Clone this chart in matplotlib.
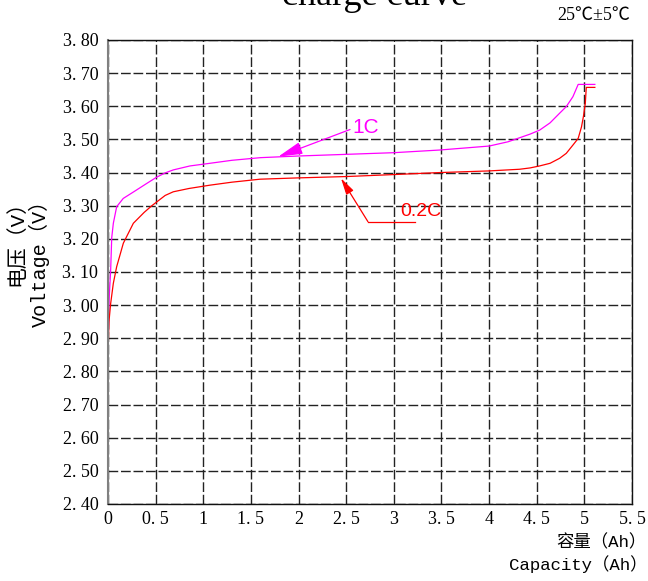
import numpy as np
import matplotlib.pyplot as plt

# 1C charge curve (capacity Ah, voltage V)
cap_1c = [0, 0.004, 0.012, 0.028, 0.039, 0.056, 0.091, 0.16, 0.27, 0.4, 0.51, 0.6, 0.685, 0.86, 1.07,
          1.3, 1.6, 2.0, 2.5, 3.0, 3.48, 4.0, 4.2, 4.32, 4.43, 4.53, 4.64, 4.74, 4.81, 4.88, 4.935, 5.11]
volt_1c = [2.80, 2.92, 3.02, 3.106, 3.203, 3.247, 3.297, 3.322, 3.342, 3.366, 3.386, 3.399, 3.408, 3.420, 3.428,
           3.437, 3.445, 3.450, 3.455, 3.460, 3.468, 3.48, 3.493, 3.505, 3.516, 3.528, 3.550, 3.579, 3.599, 3.629, 3.666, 3.666]

# 0.2C charge curve
cap_02c = [0, 0.003, 0.01, 0.028, 0.056, 0.091, 0.161, 0.266, 0.38, 0.46, 0.6, 0.685, 0.85, 1.07, 1.3,
           1.595, 2.0, 2.5, 3.0, 3.48, 4.0, 4.32, 4.43, 4.53, 4.64, 4.74, 4.81, 4.88, 4.935, 4.97, 4.99,
           5.01, 5.02, 5.11]
volt_02c = [2.80, 2.88, 2.95, 3.005, 3.066, 3.116, 3.187, 3.247, 3.28, 3.30, 3.331, 3.342, 3.352, 3.362, 3.371,
            3.380, 3.384, 3.388, 3.394, 3.40, 3.405, 3.41, 3.414, 3.42, 3.428, 3.443, 3.458, 3.483, 3.503, 3.538, 3.569,
            3.609, 3.657, 3.657]

xticks = [0, 0.5, 1, 1.5, 2, 2.5, 3, 3.5, 4, 4.5, 5, 5.5]
xlabels = ['0', '0. 5', '1', '1. 5', '2', '2. 5', '3', '3. 5', '4', '4. 5', '5', '5. 5']
yticks = [2.4, 2.5, 2.6, 2.7, 2.8, 2.9, 3.0, 3.1, 3.2, 3.3, 3.4, 3.5, 3.6, 3.7, 3.8]
ylabels = ['2. 40', '2. 50', '2. 60', '2. 70', '2. 80', '2. 90', '3. 00', '3. 10', '3. 20',
           '3. 30', '3. 40', '3. 50', '3. 60', '3. 70', '3. 80']

serif = ['Liberation Serif', 'Noto Sans CJK SC']
mono = ['Liberation Mono', 'Noto Sans CJK SC']

fig = plt.figure(figsize=(6.48, 5.81), dpi=100)
ax = fig.add_axes([108/648, 1-504/581, (632-108)/648, (504-40)/581])

ax.plot(cap_1c, volt_1c, color='#ff00ff', lw=0.9)
ax.plot(cap_02c, volt_02c, color='#ff0000', lw=0.9)

ax.set_xlim(0, 5.5)
ax.set_ylim(2.4, 3.8)
ax.set_xticks(xticks)
ax.set_xticklabels(xlabels, family=serif, fontsize=13)
ax.set_yticks(yticks)
ax.set_yticklabels(ylabels, family=serif, fontsize=13)
ax.tick_params(axis='both', length=0)
ax.tick_params(axis='y', pad=7)
ax.tick_params(axis='x', pad=5)
ax.grid(True, color='#222222', lw=1.0, linestyle=(0, (7, 2)))

for s in ['top', 'bottom', 'right']:
    ax.spines[s].set_color('#111111')
    ax.spines[s].set_linewidth(1.0)
ax.spines['left'].set_color('#808080')
ax.spines['left'].set_linewidth(1.5)

# 1C label with arrow
ax.annotate('1C', xy=(1.787, 3.448), xytext=(2.57, 3.536), color='#ff00ff',
            family='Liberation Sans', fontsize=15, va='center', ha='left',
            arrowprops=dict(arrowstyle='-|>,head_length=1.0,head_width=0.25', color='#ff00ff',
                            lw=0.9, shrinkA=0, shrinkB=0, relpos=(0, 0.45)))

# 0.2C label with elbow leader
ax.plot([2.728, 3.22], [3.252, 3.252], color='#ff0000', lw=0.9)
ax.annotate('', xy=(2.445, 3.383), xytext=(2.728, 3.252),
            arrowprops=dict(arrowstyle='-|>,head_length=1.0,head_width=0.25', color='#ff0000',
                            lw=0.9, shrinkA=0, shrinkB=0))
ax.text(3.064, 3.256, '0.2C', color='#ff0000', family='Liberation Sans', fontsize=14,
        va='bottom', ha='left')

fig.text(375/648, 1-5/581, 'charge curve', family='Liberation Serif', fontsize=26,
         ha='center', va='baseline')
fig.text(630/648, 1-16/581, '25℃±5℃', family=serif, fontsize=13, ha='right', va='center')

fig.text(16/648, 1-190/581, '电压（V）', family=mono, fontsize=15, rotation=90,
         ha='center', va='top')
fig.text(39/648, 1-190/581, 'Voltage（V）', family=mono, fontsize=14.5, rotation=90,
         ha='center', va='top')

fig.text(647/648, 1-542/581, '容量（Ah）', family=mono, fontsize=12.5, ha='right', va='center')
fig.text(647/648, 1-564/581, 'Capacity（Ah）', family=mono, fontsize=12.5, ha='right', va='center')

fig.savefig('out.png', dpi=100)
